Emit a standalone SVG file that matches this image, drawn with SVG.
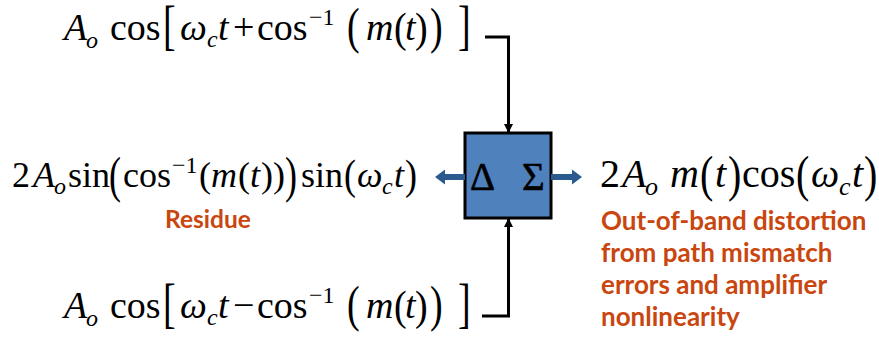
<svg xmlns="http://www.w3.org/2000/svg" width="879" height="343" viewBox="0 0 879 343">
<defs>
<style>
.m{font-family:"Liberation Serif","Times New Roman",serif;fill:#000}
.i{font-style:italic}
.lbl{font-family:Lato,"Open Sans",sans-serif;font-weight:bold;font-size:26px;fill:#C9460F}
.res{font-size:24.5px}
.conn{stroke:#000;stroke-width:3;fill:none}
.blue{fill:#2A5A8E}
</style>
<marker id="ah" viewBox="0 0 10 10" refX="10" refY="5" markerWidth="3" markerHeight="3" orient="auto"><path d="M0,0L10,5L0,10z" fill="#000"/></marker>
</defs>
<rect width="879" height="343" fill="#fff"/>

<g id="top-formula" class="m" font-size="38">
<text x="64" y="40" class="i">A</text>
<text x="86" y="48" class="i" font-size="24">o</text>
<text x="110" y="40">cos</text>
<text transform="translate(163,44) scale(1,1.45)">[</text>
<text x="180" y="40" class="i">ω</text>
<text x="207" y="47" class="i" font-size="24">c</text>
<text x="218" y="40" class="i">t</text>
<text x="233" y="40">+</text>
<text x="257" y="40">cos</text>
<text x="309" y="25" font-size="24">−1</text>
<text transform="translate(347,43) scale(1,1.35)">(</text>
<text x="366" y="40" class="i">m</text>
<text transform="translate(394,42) scale(1,1.1)">(</text>
<text x="405" y="40" class="i">t</text>
<text transform="translate(415,42) scale(1,1.1)">)</text>
<text transform="translate(430,43) scale(1,1.35)">)</text>
<text transform="translate(458,44) scale(1,1.45)">]</text>
</g>

<g id="bottom-formula" class="m" font-size="38">
<text x="64" y="318" class="i">A</text>
<text x="86" y="326" class="i" font-size="24">o</text>
<text x="110" y="318">cos</text>
<text transform="translate(163,322) scale(1,1.45)">[</text>
<text x="180" y="318" class="i">ω</text>
<text x="207" y="325" class="i" font-size="24">c</text>
<text x="218" y="318" class="i">t</text>
<text x="233" y="318">−</text>
<text x="257" y="318">cos</text>
<text x="309" y="303" font-size="24">−1</text>
<text transform="translate(347,321) scale(1,1.35)">(</text>
<text x="366" y="318" class="i">m</text>
<text transform="translate(394,320) scale(1,1.1)">(</text>
<text x="405" y="318" class="i">t</text>
<text transform="translate(415,320) scale(1,1.1)">)</text>
<text transform="translate(430,321) scale(1,1.35)">)</text>
<text transform="translate(458,322) scale(1,1.45)">]</text>
</g>

<g id="left-formula" class="m" font-size="36">
<text x="12" y="187">2</text>
<text x="33" y="187" class="i">A</text>
<text x="54" y="194" class="i" font-size="24">o</text>
<text x="68" y="187">sin</text>
<text transform="translate(109,192) scale(1,1.4)">(</text>
<text x="123" y="187">cos</text>
<text x="172" y="173" font-size="24">−1</text>
<text x="199" y="187">(</text>
<text x="211" y="187" class="i">m</text>
<text x="238" y="187">(</text>
<text x="250" y="187" class="i">t</text>
<text x="261" y="187">)</text>
<text x="273" y="187">)</text>
<text transform="translate(285,192) scale(1,1.4)">)</text>
<text x="301" y="187">sin</text>
<text transform="translate(344,189) scale(1,1.15)">(</text>
<text x="357" y="187" class="i">ω</text>
<text x="382" y="194" class="i" font-size="24">c</text>
<text x="394" y="187" class="i">t</text>
<text transform="translate(405,189) scale(1,1.15)">)</text>
</g>

<g id="right-formula" class="m" font-size="40">
<text x="600" y="187">2</text>
<text x="622" y="187" class="i">A</text>
<text x="645" y="195" class="i" font-size="26">o</text>
<text x="670" y="187" class="i">m</text>
<text transform="translate(700,191) scale(1,1.25)">(</text>
<text x="715" y="187" class="i">t</text>
<text transform="translate(728,191) scale(1,1.25)">)</text>
<text x="742" y="187">cos</text>
<text transform="translate(796,191) scale(1,1.25)">(</text>
<text x="811" y="187" class="i">ω</text>
<text x="839" y="195" class="i" font-size="26">c</text>
<text x="852" y="187" class="i">t</text>
<text transform="translate(864,191) scale(1,1.25)">)</text>
</g>

<g id="residue-label"><text x="165" y="228" class="lbl res">Residue</text></g>
<g id="distortion-label">
<text x="601" y="230" class="lbl">Out-of-band distortion</text>
<text x="601" y="262" class="lbl">from path mismatch</text>
<text x="601" y="294" class="lbl">errors and amplifier</text>
<text x="601" y="326" class="lbl">nonlinearity</text>
</g>

<g id="delta-sigma">
<rect x="465" y="133" width="86" height="85" fill="#4F81BD" stroke="#000" stroke-width="3"/>
<text x="470" y="190" class="m" font-size="39" stroke="#000" stroke-width="0.6">Δ</text>
<text x="522" y="190" class="m" font-size="39" stroke="#000" stroke-width="0.6">Σ</text>
</g>

<g id="connectors">
<path class="conn" d="M485,37H508.5V133" marker-end="url(#ah)"/>
<path class="conn" d="M482,316H508.5V218" marker-end="url(#ah)"/>
<path class="blue" d="M465,174H445V169.5L435,177L445,184.5V180H465z"/>
<path class="blue" d="M551,174H572V169.5L582,177L572,184.5V180H551z"/>
</g>
</svg>
